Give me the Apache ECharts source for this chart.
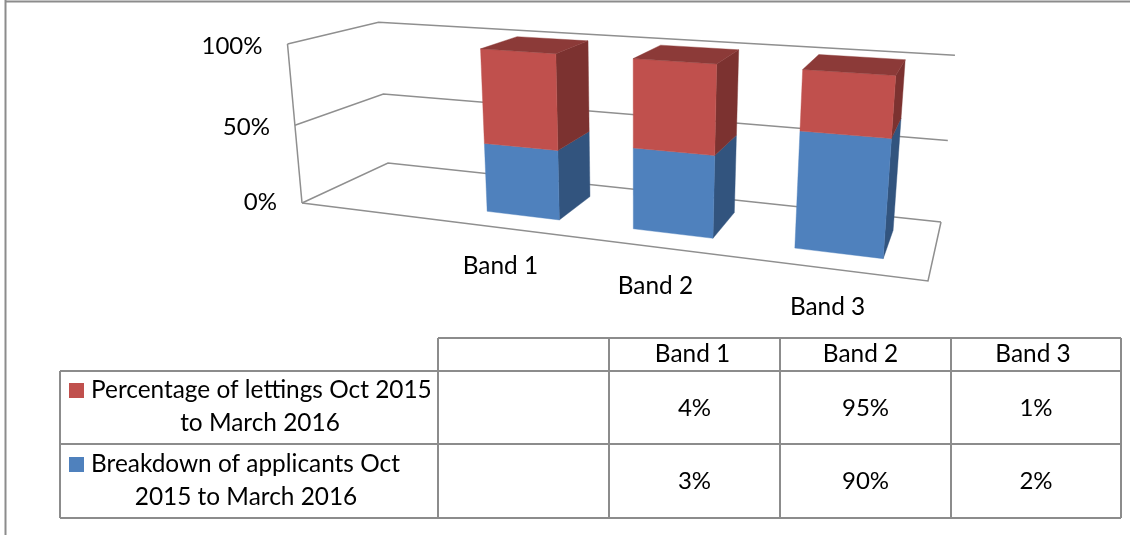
<!DOCTYPE html>
<html>
<head>
<meta charset="utf-8">
<style>html,body{margin:0;padding:0;background:#fff}#chart{width:1130px;height:535px}</style>
<script src="https://cdn.jsdelivr.net/npm/echarts@6/dist/echarts.min.js"></script>
</head>
<body>
<div id="chart"></div>
<script>
// Lettings against applicants by band, drawn as 100% stacked columns in a 3D box with a data table.
const categories = ['', 'Band 1', 'Band 2', 'Band 3'];
const applicants = [null, 3, 90, 2];
const lettings = [null, 4, 95, 1];
const applicantsName = ['Breakdown of applicants Oct', '2015 to March 2016'];
const lettingsName = ['Percentage of lettings Oct 2015', 'to March 2016'];
const valueTicks = [0, 50, 100];
const FONT = 'Lato';
const NUMBER_FONT = '24px ' + FONT;
const TEXT_FONT = '24.4px ' + FONT;

// Box floor on screen (front-left, front-right, back-right, back-left) and the top of its front-left edge.
const floorQuad = [[302, 203], [928, 281], [941, 222], [388, 163]];
const frontLeftTop = [287.5, 44];
const heightPerspective = -0.0416;

// Projective camera: floor plane from a unit-square mapping, plus one column for height.
const camera = (function () {
  const [[x0, y0], [x1, y1], [x2, y2], [x3, y3]] = floorQuad;
  const dx1 = x1 - x2, dx2 = x3 - x2, sx = x0 - x1 + x2 - x3;
  const dy1 = y1 - y2, dy2 = y3 - y2, sy = y0 - y1 + y2 - y3;
  const den = dx1 * dy2 - dx2 * dy1;
  const g = (sx * dy2 - dx2 * sy) / den;
  const h = (dx1 * sy - sx * dy1) / den;
  const r = heightPerspective;
  return {
    a: x1 - x0 + g * x1, b: x3 - x0 + h * x3, c: x0,
    d: y1 - y0 + g * y1, e: y3 - y0 + h * y3, f: y0,
    g, h, r,
    px: frontLeftTop[0] * (1 + r) - x0,
    py: frontLeftTop[1] * (1 + r) - y0
  };
})();

// u runs along the categories, v up the value axis, w from front to back.
function project(u, v, w) {
  const m = camera;
  const k = m.g * u + m.h * w + 1 + m.r * v;
  return [(m.a * u + m.b * w + m.c + m.px * v) / k, (m.d * u + m.e * w + m.f + m.py * v) / k];
}

// Reads a data pair through the cartesian axes and returns its position in the unit box.
function toBox(params, api, cat, val) {
  const cs = params.coordSys;
  const p = api.coord([cat, val]);
  return [(p[0] - cs.x) / cs.width, (cs.y + cs.height - p[1]) / cs.height];
}

function face(points, fill) {
  return { type: 'polygon', shape: { points }, style: { fill, stroke: fill, lineWidth: 0.4 } };
}

function share(values, others, i) {
  return values[i] == null ? null : values[i] / (values[i] + others[i]) * 100;
}

function stackRenderer(colors) {
  return function (params, api) {
    const cat = api.value(0), low = api.value(1), high = api.value(2);
    if (isNaN(low) || isNaN(high)) return null;
    const half = api.size([1, 0])[0] / params.coordSys.width * 0.253;
    const [ub, v0] = toBox(params, api, cat, low);
    const [, v1] = toBox(params, api, cat, high);
    const uc = ub - 0.0048;
    const u0 = uc - half, u1 = uc + half, w0 = 0.25, w1 = 0.75;
    const children = [
      face([project(u1, v0, w0), project(u1, v0, w1), project(u1, v1, w1), project(u1, v1, w0)], colors.side),
      face([project(u0, v0, w0), project(u1, v0, w0), project(u1, v1, w0), project(u0, v1, w0)], colors.front)
    ];
    if (high >= 100) {
      children.push(face([project(u0, v1, w0), project(u1, v1, w0), project(u1, v1, w1), project(u0, v1, w1)], colors.top));
    }
    return { type: 'group', children };
  };
}

const axisLine = { stroke: '#8f8f8f', lineWidth: 1.5 };

function wallRenderer(params, api) {
  const val = api.value(0);
  const [, v] = toBox(params, api, 0, val);
  const children = [{
    type: 'polyline',
    shape: { points: [project(0, v, 0), project(0, v, 1), project(1, v, 1)] },
    style: Object.assign({ fill: null }, axisLine)
  }];
  if (val === 0) {
    children.push({
      type: 'polyline',
      shape: { points: [project(0, 0, 0), project(1, 0, 0), project(1, 0, 1)] },
      style: Object.assign({ fill: null }, axisLine)
    });
    const a = project(0, 0, 0), b = project(0, 1, 0);
    children.push({ type: 'line', shape: { x1: a[0], y1: a[1], x2: b[0], y2: b[1] }, style: axisLine });
  }
  const at = project(0, v, 0);
  children.push({
    type: 'text',
    style: {
      text: val + '%', x: at[0] - 25, y: at[1] + (val === 0 ? -1 : 2), align: 'right', verticalAlign: 'middle',
      font: NUMBER_FONT, fill: '#000'
    }
  });
  return { type: 'group', children };
}

function categoryLabelRenderer(params, api) {
  const cat = api.value(0);
  const [u] = toBox(params, api, cat, 0);
  const at = project(u, 0, 0);
  return {
    type: 'text',
    style: {
      text: categories[cat], x: at[0] - 7, y: at[1] + 38, align: 'center', verticalAlign: 'middle',
      font: TEXT_FONT, fill: '#000'
    }
  };
}

// Data table beneath the chart.
const colX = [438, 609, 780, 951, 1121];
const rowY = [338, 371, 444, 518];
const tableX0 = 60;
const headerShift = [-2, -5, -3];
function tableGraphics() {
  const out = [];
  const line = (x1, y1, x2, y2) => out.push({
    type: 'line', shape: { x1, y1, x2, y2 }, style: { stroke: '#8c8c8c', lineWidth: 2 }
  });
  const text = (s, x, y, align, font) => out.push({
    type: 'text', x, y, style: { text: s, align: align || 'center', verticalAlign: 'middle', font: font || TEXT_FONT, fill: '#000' }
  });
  line(colX[0], rowY[0], colX[4], rowY[0]);
  rowY.slice(1).forEach(y => line(tableX0, y, colX[4], y));
  line(tableX0, rowY[1], tableX0, rowY[3]);
  colX.forEach(x => line(x, rowY[0], x, rowY[3]));
  categories.slice(1).forEach((c, i) => {
    const cx = (colX[i + 1] + colX[i + 2]) / 2;
    text(c, cx + headerShift[i], 354);
    text(lettings[i + 1] + '%', cx, 408, 'center', NUMBER_FONT);
    text(applicants[i + 1] + '%', cx, 481, 'center', NUMBER_FONT);
  });
  out.push({ type: 'rect', shape: { x: 69, y: 383, width: 15, height: 15 }, style: { fill: '#C0504D' } });
  out.push({ type: 'rect', shape: { x: 69, y: 457, width: 15, height: 15 }, style: { fill: '#4F81BD' } });
  text(lettingsName[0], 91, 390, 'left');
  text(lettingsName[1], 260, 423);
  text(applicantsName[0], 91, 464, 'left');
  text(applicantsName[1], 246, 497);
  // outer frame of the chart area
  line(5.5, 0, 5.5, 535);
  line(5, 1.5, 1130, 1.5);
  return out;
}

const blueShares = categories.map((_, i) => share(applicants, lettings, i));
const chart = echarts.init(document.getElementById('chart'), null, { renderer: 'canvas' });
chart.setOption({
  animation: false,
  backgroundColor: '#fff',
  grid: { left: 302, top: 44, width: 626, height: 159, containLabel: false },
  xAxis: { type: 'category', data: categories, show: false },
  yAxis: { type: 'value', min: 0, max: 100, interval: 50, show: false },
  graphic: tableGraphics(),
  series: [
    {
      type: 'custom', name: 'Axes', coordinateSystem: 'cartesian2d', z: 1, silent: true,
      encode: { y: 0 }, data: valueTicks.map(v => [v]), renderItem: wallRenderer, clip: false
    },
    {
      type: 'custom', name: 'Bands', coordinateSystem: 'cartesian2d', z: 1, silent: true,
      encode: { x: 0 }, data: categories.map((c, i) => [i]).slice(1), renderItem: categoryLabelRenderer, clip: false
    },
    {
      type: 'custom', name: applicantsName.join(' '), coordinateSystem: 'cartesian2d', z: 3, clip: false,
      encode: { x: 0, y: [1, 2] },
      data: blueShares.map((s, i) => [i, s == null ? null : 0, s]),
      renderItem: stackRenderer({ front: '#4F81BD', side: '#32547E', top: '#3A6391' })
    },
    {
      type: 'custom', name: lettingsName.join(' '), coordinateSystem: 'cartesian2d', z: 4, clip: false,
      encode: { x: 0, y: [1, 2] },
      data: blueShares.map((s, i) => [i, s, s == null ? null : 100]),
      renderItem: stackRenderer({ front: '#C0504D', side: '#7C3230', top: '#8C3A38' })
    }
  ]
});
</script>
</body>
</html>
